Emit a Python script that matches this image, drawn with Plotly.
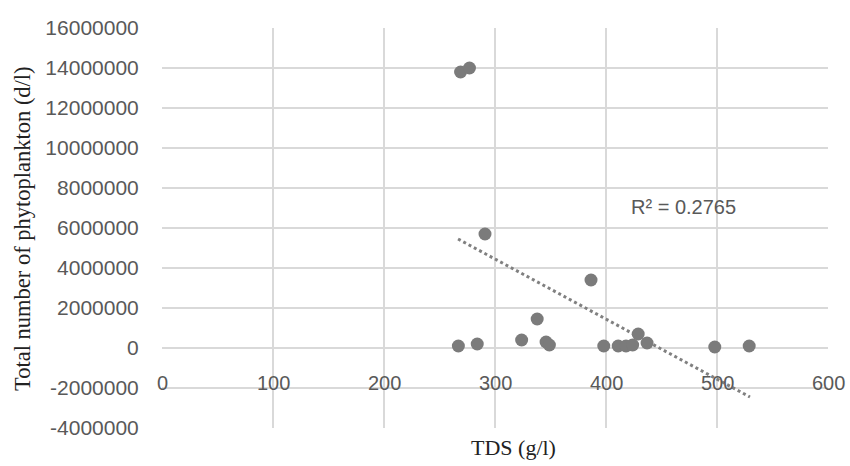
import plotly.graph_objects as go

# Data
tds = [267, 269, 277, 284, 291, 324, 338, 346, 349, 386.5, 398, 411, 418, 424, 429, 437, 498, 529]
phyto = [100000, 13800000, 14000000, 200000, 5700000, 400000, 1450000, 300000, 150000,
         3400000, 100000, 100000, 100000, 150000, 700000, 250000, 50000, 100000]

trend_x = [266.7, 529.7]
trend_y = [5450000, -2450000]
r2_text = "R² = 0.2765"

x_ticks = [0, 100, 200, 300, 400, 500, 600]
y_ticks = [-4000000, -2000000, 0, 2000000, 4000000, 6000000, 8000000,
           10000000, 12000000, 14000000, 16000000]

grid_col = "#d9d9d9"
txt_col = "#595959"
sans = "Liberation Sans, Arial"
serif = "Liberation Serif, Times New Roman"

L, R, T, B = 162, 22, 28, 38
W, H = 850, 466
plot_w = W - L - R
plot_h = H - T - B

fig = go.Figure()
fig.add_trace(go.Scatter(
    x=trend_x, y=trend_y, mode="lines",
    line=dict(color="#808080", width=3, dash="dot"),
    hoverinfo="skip", showlegend=False))
fig.add_trace(go.Scatter(
    x=tds, y=phyto, mode="markers",
    marker=dict(size=13, color="#7b7b7b", line=dict(width=0)),
    showlegend=False))

# x tick labels drawn just below the horizontal axis (which crosses at y=0)
for v in x_ticks:
    fig.add_annotation(x=v, y=y_ticks[1], xref="x", yref="y", text=str(v),
                       showarrow=False, yshift=5,
                       font=dict(family=sans, size=20, color=txt_col))

fig.add_annotation(x=421, y=7050000, xref="x", yref="y", text=r2_text,
                   showarrow=False, xanchor="left",
                   font=dict(family=sans, size=20, color=txt_col))

# axis titles
fig.add_annotation(x=(513 - L) / plot_w, y=-(447 - (H - B)) / plot_h,
                   xref="paper", yref="paper", text="TDS (g/l)", showarrow=False,
                   xanchor="center", yanchor="middle",
                   font=dict(family=serif, size=22, color="#222222"))
fig.add_annotation(x=(23 - L) / plot_w, y=((H - B) - 229) / plot_h,
                   xref="paper", yref="paper", text="Total number of phytoplankton (d/l)",
                   showarrow=False, textangle=-90, xanchor="center", yanchor="middle",
                   font=dict(family=serif, size=22.5, color="#222222"))

fig.update_layout(
    width=W, height=H,
    margin=dict(l=L, r=R, t=T, b=B),
    paper_bgcolor="white", plot_bgcolor="white",
    xaxis=dict(range=[0, 600], tickvals=x_ticks, showticklabels=False,
               showgrid=True, gridcolor=grid_col, gridwidth=1.5,
               zeroline=False, showline=False, fixedrange=True),
    yaxis=dict(range=[-4000000, 16000000], tickvals=y_ticks,
               ticktext=[str(v) for v in y_ticks],
               showgrid=True, gridcolor=grid_col, gridwidth=1.5,
               zeroline=False, showline=False,
               ticks="outside", ticklen=18, tickcolor="rgba(0,0,0,0)",
               tickfont=dict(family=sans, size=21, color=txt_col)),
)

fig.write_html("out.html")
